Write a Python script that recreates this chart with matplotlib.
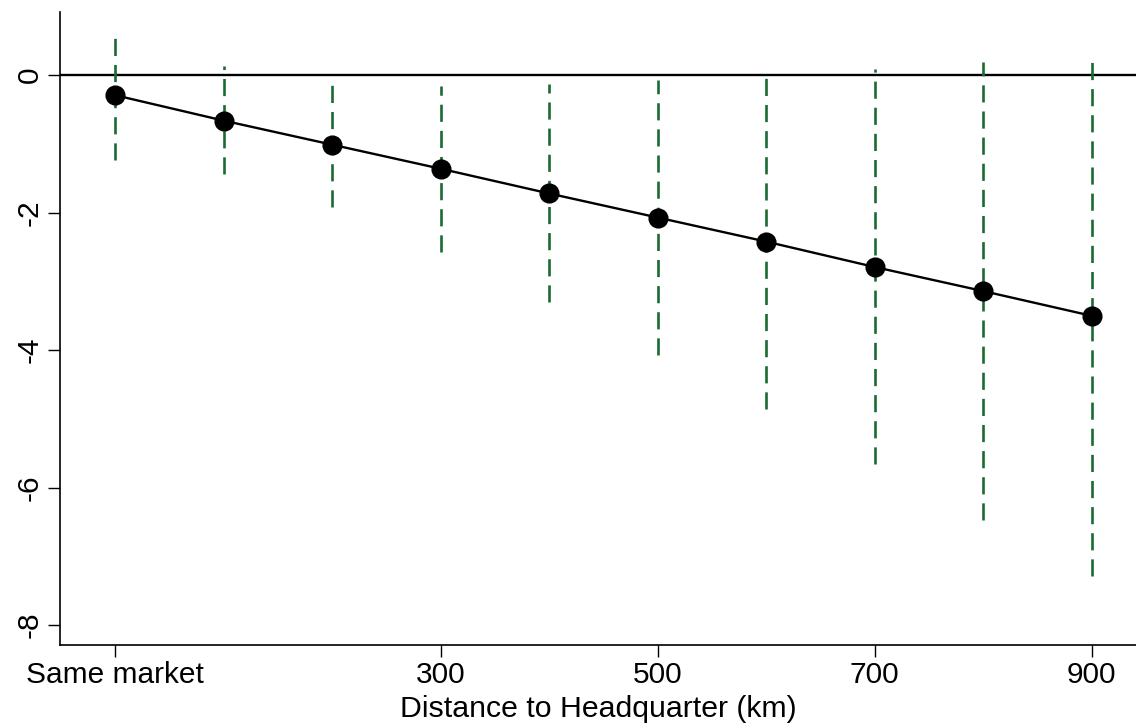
import matplotlib
matplotlib.use("Agg")
import matplotlib.pyplot as plt

plt.rcParams['font.family'] = ['Liberation Sans', 'DejaVu Sans']

distance = [0, 100, 200, 300, 400, 500, 600, 700, 800, 900]
estimate = [-0.29, -0.66, -1.01, -1.36, -1.72, -2.07, -2.42, -2.79, -3.14, -3.50]
ci_upper = [0.55, 0.13, -0.10, -0.16, -0.13, -0.07, 0.0, 0.09, 0.19, 0.26]
ci_lower = [-1.23, -1.43, -1.91, -2.57, -3.30, -4.07, -4.86, -5.66, -6.47, -7.28]
xtick_pos = [0, 300, 500, 700, 900]
xtick_labels = ["Same market", "300", "500", "700", "900"]
ytick_pos = [0, -2, -4, -6, -8]

fig = plt.figure(figsize=(11.36, 7.26), dpi=100)
ax = fig.add_axes([60/1136, 1-645/726, 1-60/1136, (645-12)/726])

ax.axhline(0, color='black', lw=1.7, zorder=1)
for x, lo, hi in zip(distance, ci_lower, ci_upper):
    ax.plot([x, x], [lo, hi], color='#1a6b33', lw=1.9, dashes=(6.5, 3.4), zorder=2)
ax.plot(distance, estimate, color='black', lw=1.7, marker='o', markersize=13.5, zorder=3)

ax.set_xlim(-50.7, 941)
ax.set_ylim(-8.29, 0.92)
ax.set_xticks(xtick_pos)
ax.set_xticklabels(xtick_labels)
ax.set_yticks(ytick_pos)
ax.set_yticklabels([str(v) for v in ytick_pos], rotation=90, va='center')
ax.tick_params(axis='both', direction='out', length=8.5, width=1.0, labelsize=21.5, pad=3)
ax.set_xlabel("Distance to Headquarter (km)", fontsize=21.8, labelpad=4)
for s in ['top', 'right']:
    ax.spines[s].set_visible(False)
for s in ['left', 'bottom']:
    ax.spines[s].set_linewidth(1.2)

fig.savefig("out.png", dpi=100, facecolor='white')
